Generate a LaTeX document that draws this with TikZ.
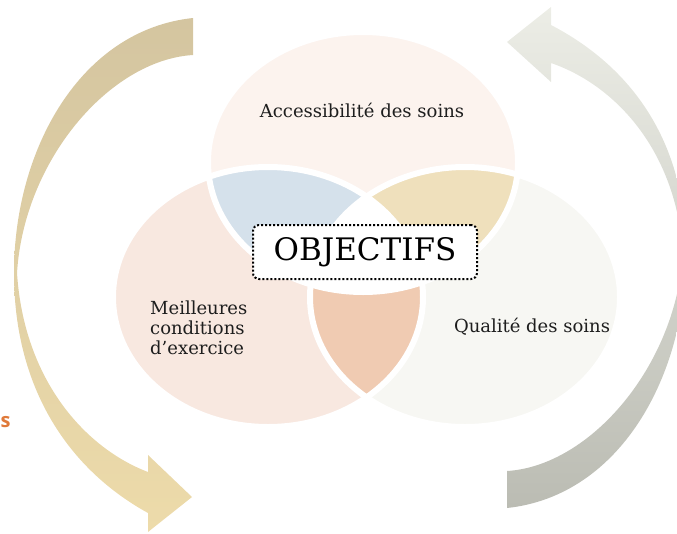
\documentclass[tikz,border=0pt]{standalone}
\usepackage{fontspec}
\setmainfont{DejaVu Serif}
\setsansfont{Open Sans}

\definecolor{topfill}{HTML}{FCF3EE}
\definecolor{leftfill}{HTML}{F8E8E0}
\definecolor{rightfill}{HTML}{F7F7F3}
\definecolor{lensblue}{HTML}{D5E1EB}
\definecolor{lenstan}{HTML}{EFE0BC}
\definecolor{lenspeach}{HTML}{F0CBB2}
\definecolor{arrowtanA}{HTML}{D4C5A0}
\definecolor{arrowtanB}{HTML}{EDDBAA}
\definecolor{arrowgreyA}{HTML}{ECEDE6}
\definecolor{arrowgreyB}{HTML}{BBBCB3}
\definecolor{inkgrey}{HTML}{1E1E1E}
\definecolor{fragorange}{HTML}{E07A3A}

\tikzset{
    venn/.style={x radius=155, y radius=130},
    gap/.style={draw=white, line width=6pt},
    vtext/.style={text=inkgrey, inner sep=0pt, font=\fontsize{18}{20}\selectfont},
    titlebox/.style={draw=black, dotted, line width=2pt, rounded corners=6pt,
        fill=white, minimum width=224pt, minimum height=54pt,
        font=\fontsize{31}{31}\selectfont},
}

\begin{document}
\begin{tikzpicture}[x=1pt, y=-1pt]
    \useasboundingbox (0, 0) rectangle (677, 533);
    \coordinate (ctop) at (363, 162);
    \coordinate (cleft) at (268, 297);
    \coordinate (cright) at (465, 297);

    % curved arrows
    \shade[top color=arrowtanA, bottom color=arrowtanB]
        (193, 18) .. controls (80, 30) and (14, 150) .. (14, 273)
        .. controls (14, 390) and (70, 470) .. (148, 513)
        -- (148, 532) -- (192, 497) -- (148, 455) -- (148, 472)
        .. controls (85, 448) and (24, 380) .. (17, 273)
        .. controls (24, 160) and (110, 60) .. (193, 55) -- cycle;
    \shade[top color=arrowgreyA, bottom color=arrowgreyB]
        (507, 508) .. controls (620, 496) and (686, 376) .. (686, 253)
        .. controls (686, 140) and (630, 66) .. (551, 25)
        -- (551, 7) -- (507, 42) -- (551, 82) -- (551, 63)
        .. controls (615, 85) and (676, 150) .. (683, 253)
        .. controls (676, 366) and (590, 466) .. (507, 471) -- cycle;

    % the three sets
    \fill[topfill] (ctop) ellipse [venn];
    \fill[leftfill] (cleft) ellipse [venn];
    \fill[rightfill] (cright) ellipse [venn];
    \begin{scope}
        \clip (ctop) ellipse [venn];
        \fill[lensblue] (cleft) ellipse [venn];
        \fill[lenstan] (cright) ellipse [venn];
    \end{scope}
    \begin{scope}
        \clip (cleft) ellipse [venn];
        \fill[lenspeach] (cright) ellipse [venn];
        \clip (cright) ellipse [venn];
        \fill[white] (ctop) ellipse [venn];
    \end{scope}
    \foreach \c in {ctop, cleft, cright}
        \draw[gap] (\c) ellipse [venn];

    \node[vtext] (acces) at (362, 110) {Accessibilité des soins};
    \node[vtext, align=left, anchor=west] (meill) at (150, 328)
        {Meilleures\\conditions\\d’exercice};
    \node[vtext] (qual) at (532, 327) {Qualité des soins};
    \node[titlebox] (obj) at (365, 252) {OBJECTIFS};
    \node[anchor=west, text=fragorange, inner sep=0pt,
        font=\sffamily\bfseries\fontsize{20}{20}\selectfont] (frag) at (0.5, 422) {s};
\end{tikzpicture}
\end{document}
